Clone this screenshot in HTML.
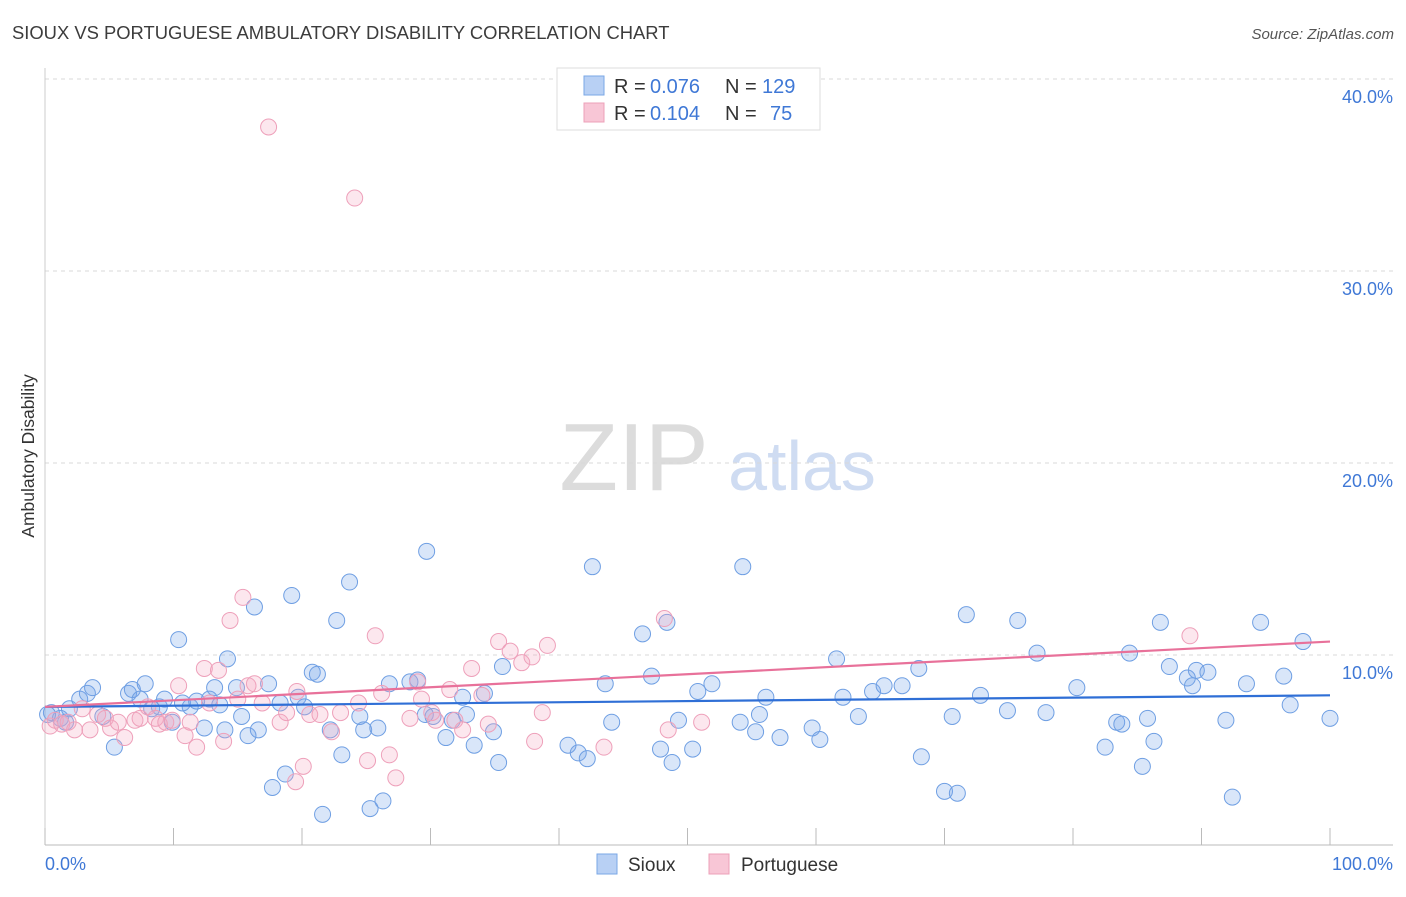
<!DOCTYPE html>
<html><head><meta charset="utf-8"><style>
body{margin:0;background:#fff;font-family:"Liberation Sans",sans-serif;}
svg text{font-family:"Liberation Sans",sans-serif;}
</style></head><body>
<svg id="chart" width="1406" height="892" viewBox="0 0 1406 892" xmlns="http://www.w3.org/2000/svg">
<text x="12" y="39" font-size="18.4" fill="#3c3c3c">SIOUX VS PORTUGUESE AMBULATORY DISABILITY CORRELATION CHART</text>
<text x="1394" y="39" font-size="15" fill="#555" font-style="italic" text-anchor="end">Source: ZipAtlas.com</text>
<text transform="translate(34,456) rotate(-90)" font-size="17.5" fill="#333" text-anchor="middle">Ambulatory Disability</text>
<g>
<text x="634" y="490" font-size="96" fill="#dcdcdc" font-family="Liberation Serif" text-anchor="middle">ZIP</text>
<text x="802" y="490" font-size="70" fill="#cfdcf2" text-anchor="middle">atlas</text>
</g>
<g id="grid"></g>
<g id="axes"></g>
<g id="points"></g>
<g id="trends"></g>
<g>
<rect x="557" y="68" width="263" height="62" fill="#fff" stroke="#ddd"/>
<rect x="584" y="76" width="20" height="19" fill="#b8d0f4" stroke="#7aa7e6"/>
<text x="614" y="93" font-size="20" fill="#333">R =</text>
<text x="650" y="93" font-size="20" fill="#3f78d6">0.076</text>
<text x="725" y="93" font-size="20" fill="#333">N =</text>
<text x="762" y="93" font-size="20" fill="#3f78d6">129</text>
<rect x="584" y="103" width="20" height="19" fill="#f8c6d6" stroke="#eda0b8"/>
<text x="614" y="120" font-size="20" fill="#333">R =</text>
<text x="650" y="120" font-size="20" fill="#3f78d6">0.104</text>
<text x="725" y="120" font-size="20" fill="#333">N =</text>
<text x="770" y="120" font-size="20" fill="#3f78d6">75</text>
</g>
<g>
<rect x="597" y="854" width="20" height="20" fill="#b8d0f4" stroke="#7aa7e6"/>
<text x="628" y="871" font-size="19" fill="#333">Sioux</text>
<rect x="709" y="854" width="20" height="20" fill="#f8c6d6" stroke="#eda0b8"/>
<text x="741" y="871" font-size="19" fill="#333">Portuguese</text>
</g>
</svg>
<script>
const yTicks=[10,20,30,40];
const yTickLabels=["10.0%","20.0%","30.0%","40.0%"];
const xTickLabels=["0.0%","100.0%"];
const siouxX=[0.5,1.2,1.9,2.7,3.3,3.7,4.5,5.4,6.5,6.8,7.4,7.8,8.3,8.9,9.3,9.9,10.4,10.7,11.3,11.8,12.4,12.8,13.2,13.6,14.0,14.2,14.9,15.3,15.8,16.3,16.6,17.4,17.7,18.3,18.7,19.2,19.7,20.2,20.8,21.2,21.6,22.2,22.7,23.1,23.7,24.5,24.8,25.3,25.9,26.3,26.8,28.4,29.0,29.6,29.7,30.2,31.2,31.7,32.5,32.8,33.4,34.2,34.9,35.3,35.6,40.7,41.5,42.2,42.6,43.6,44.1,46.5,47.2,47.9,48.4,48.8,49.3,50.4,50.8,51.9,54.1,54.3,55.3,55.6,56.1,57.2,59.7,60.3,61.6,62.1,63.3,64.4,65.3,66.7,68.0,68.2,70.0,70.6,71.0,71.7,72.8,74.9,75.7,77.2,77.9,80.3,82.5,83.4,83.8,84.4,85.4,85.8,86.3,86.8,87.5,88.9,89.3,89.6,90.5,91.9,92.4,93.5,94.6,96.4,96.9,97.9,100,0.2,1.6];
const siouxY=[7.0,6.7,7.2,7.7,8.0,8.3,6.8,5.2,8.0,8.2,7.7,8.5,7.2,7.3,7.7,6.5,10.8,7.5,7.3,7.6,6.2,7.7,8.3,7.4,6.1,9.8,8.3,6.8,5.8,12.5,6.1,8.5,3.1,7.5,3.8,13.1,7.8,7.3,9.1,9.0,1.7,6.1,11.8,4.8,13.8,6.8,6.1,2.0,6.2,2.4,8.5,8.6,8.7,6.9,15.4,6.8,5.7,6.6,7.8,6.9,5.3,8.0,6.0,4.4,9.4,5.3,4.9,4.6,14.6,8.5,6.5,11.1,8.9,5.1,11.7,4.4,6.6,5.1,8.1,8.5,6.5,14.6,6.0,6.9,7.8,5.7,6.2,5.6,9.8,7.8,6.8,8.1,8.4,8.4,9.3,4.7,2.9,6.8,2.8,12.1,7.9,7.1,11.8,10.1,7.0,8.3,5.2,6.5,6.4,10.1,4.2,6.7,5.5,11.7,9.4,8.8,8.4,9.2,9.1,6.6,2.6,8.5,11.7,8.9,7.4,10.7,6.7,6.9,6.5];
const portX=[0.4,0.8,1.3,1.8,2.3,2.9,3.5,4.1,4.7,5.1,5.7,6.2,7.0,7.4,8.0,8.6,8.9,9.4,9.9,10.4,10.9,11.3,11.8,12.4,12.8,13.5,13.9,14.4,15.0,15.4,15.8,16.3,16.9,17.4,18.3,18.8,19.5,19.6,20.1,20.6,21.4,22.3,23.0,24.1,24.4,25.1,25.7,26.2,26.8,27.3,28.4,29.0,29.3,30.1,30.4,31.5,31.9,32.5,33.2,34.0,34.5,35.3,36.2,37.1,37.9,38.1,38.7,39.1,43.5,48.2,48.5,51.1,89.1];
const portY=[6.3,6.6,6.4,6.5,6.1,7.2,6.1,6.9,6.7,6.2,6.5,5.7,6.6,6.7,7.3,6.7,6.4,6.5,6.6,8.4,5.8,6.5,5.2,9.3,7.5,9.2,5.5,11.8,7.7,13.0,8.4,8.5,7.5,37.5,6.5,7.0,3.4,8.1,4.2,6.9,6.9,6.0,7.0,33.8,7.5,4.5,11.0,8.0,4.8,3.6,6.7,8.6,7.7,7.0,6.6,8.2,6.6,6.1,9.3,7.9,6.4,10.7,10.2,9.6,9.9,5.5,7.0,10.5,5.2,11.9,6.1,6.5,11.0];
const siouxTrend=[7.3,7.9];
const portTrend=[7.3,10.7];

const NS="http://www.w3.org/2000/svg";
const X0=45,X1=1330,YB=847,PPU=19.2;
const xs=v=>X0+(X1-X0)*v/100;
const ys=v=>YB-v*PPU;
function mk(tag,attrs,parent){const e=document.createElementNS(NS,tag);for(const k in attrs)e.setAttribute(k,attrs[k]);parent.appendChild(e);return e;}
const grid=document.getElementById('grid'),axes=document.getElementById('axes'),pts=document.getElementById('points'),tr=document.getElementById('trends');
yTicks.forEach((t,i)=>{
 const l=mk('line',{x1:45,x2:1393,y1:ys(t),y2:ys(t),stroke:'#d8d8d8','stroke-dasharray':'4,4'},grid);
 
 
 const tx=mk('text',{x:1393,y:ys(t)+24,'font-size':18,fill:'#3f78d6','text-anchor':'end'},axes);
 tx.textContent=yTickLabels[i];
 
 
});
const ax=mk('line',{x1:45,x2:1393,y1:845,y2:845,stroke:'#bbb'},axes);


const ay=mk('line',{x1:45,x2:45,y1:68,y2:845,stroke:'#ccc'},axes);


for(let k=0;k<=10;k++){
 const t=mk('line',{x1:xs(k*10),x2:xs(k*10),y1:828,y2:845,stroke:'#bbb'},axes);
 
 
}
const xl0=mk('text',{x:45,y:870,'font-size':18,fill:'#3f78d6'},axes);
xl0.textContent=xTickLabels[0];


const xl1=mk('text',{x:1393,y:870,'font-size':18,fill:'#3f78d6','text-anchor':'end'},axes);
xl1.textContent=xTickLabels[1];


siouxX.forEach((x,i)=>{
 const c=mk('circle',{cx:xs(x),cy:ys(siouxY[i]),r:8,fill:'rgba(120,165,235,0.28)',stroke:'#6f9fe3','stroke-width':1},pts);
 
 
});
portX.forEach((x,i)=>{
 const c=mk('circle',{cx:xs(x),cy:ys(portY[i]),r:8,fill:'rgba(245,170,195,0.28)',stroke:'#eea0ba','stroke-width':1},pts);
 
 
});
const l1=mk('line',{x1:xs(0),y1:ys(siouxTrend[0]),x2:xs(100),y2:ys(siouxTrend[1]),stroke:'#2f6fd6','stroke-width':2.2},tr);


const l2=mk('line',{x1:xs(0),y1:ys(portTrend[0]),x2:xs(100),y2:ys(portTrend[1]),stroke:'#e8719a','stroke-width':2.2},tr);


</script>
</body></html>
